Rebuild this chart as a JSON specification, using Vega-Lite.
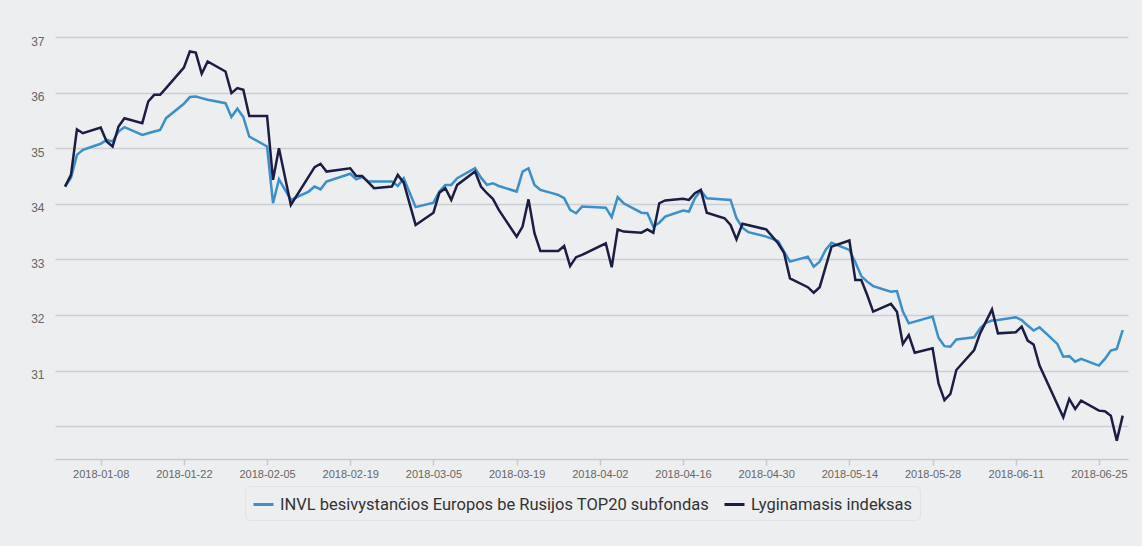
{
  "$schema": "https://vega.github.io/schema/vega-lite/v6.json",
  "width": 1073,
  "height": 422,
  "autosize": {"type": "none"},
  "padding": {"left": 55, "top": 37, "right": 14, "bottom": 87},
  "background": "#EDEEF0",
  "config": {
    "view": {"stroke": null},
    "font": "Liberation Sans",
    "axis": {"labelFont": "Liberation Sans", "labelColor": "#666666"},
    "legend": {"labelFont": "Roboto"}
  },
  "datasets": {
    "fund": [
      {"date": "2018-01-02", "value": 34.31}, {"date": "2018-01-03", "value": 34.47}, {"date": "2018-01-04", "value": 34.88},
      {"date": "2018-01-05", "value": 34.97}, {"date": "2018-01-08", "value": 35.08}, {"date": "2018-01-09", "value": 35.15},
      {"date": "2018-01-10", "value": 35.12}, {"date": "2018-01-11", "value": 35.30}, {"date": "2018-01-12", "value": 35.38},
      {"date": "2018-01-15", "value": 35.24}, {"date": "2018-01-16", "value": 35.27}, {"date": "2018-01-17", "value": 35.30},
      {"date": "2018-01-18", "value": 35.33}, {"date": "2018-01-19", "value": 35.54}, {"date": "2018-01-22", "value": 35.80},
      {"date": "2018-01-23", "value": 35.92}, {"date": "2018-01-24", "value": 35.93}, {"date": "2018-01-25", "value": 35.90},
      {"date": "2018-01-26", "value": 35.87}, {"date": "2018-01-29", "value": 35.81}, {"date": "2018-01-30", "value": 35.56},
      {"date": "2018-01-31", "value": 35.71}, {"date": "2018-02-01", "value": 35.56}, {"date": "2018-02-02", "value": 35.21},
      {"date": "2018-02-05", "value": 35.03}, {"date": "2018-02-06", "value": 34.01}, {"date": "2018-02-07", "value": 34.44},
      {"date": "2018-02-09", "value": 34.07}, {"date": "2018-02-12", "value": 34.22}, {"date": "2018-02-13", "value": 34.31},
      {"date": "2018-02-14", "value": 34.26}, {"date": "2018-02-15", "value": 34.40}, {"date": "2018-02-19", "value": 34.54},
      {"date": "2018-02-20", "value": 34.44}, {"date": "2018-02-21", "value": 34.48}, {"date": "2018-02-22", "value": 34.40},
      {"date": "2018-02-26", "value": 34.40}, {"date": "2018-02-27", "value": 34.32}, {"date": "2018-02-28", "value": 34.46},
      {"date": "2018-03-02", "value": 33.94}, {"date": "2018-03-05", "value": 34.02}, {"date": "2018-03-06", "value": 34.22},
      {"date": "2018-03-07", "value": 34.34}, {"date": "2018-03-08", "value": 34.34}, {"date": "2018-03-09", "value": 34.46},
      {"date": "2018-03-12", "value": 34.64}, {"date": "2018-03-13", "value": 34.47}, {"date": "2018-03-14", "value": 34.34},
      {"date": "2018-03-15", "value": 34.37}, {"date": "2018-03-16", "value": 34.32}, {"date": "2018-03-19", "value": 34.22},
      {"date": "2018-03-20", "value": 34.58}, {"date": "2018-03-21", "value": 34.64}, {"date": "2018-03-22", "value": 34.34},
      {"date": "2018-03-23", "value": 34.25}, {"date": "2018-03-26", "value": 34.16}, {"date": "2018-03-27", "value": 34.10},
      {"date": "2018-03-28", "value": 33.89}, {"date": "2018-03-29", "value": 33.83}, {"date": "2018-03-30", "value": 33.95},
      {"date": "2018-04-03", "value": 33.93}, {"date": "2018-04-04", "value": 33.76}, {"date": "2018-04-05", "value": 34.12},
      {"date": "2018-04-06", "value": 34.01}, {"date": "2018-04-09", "value": 33.84}, {"date": "2018-04-10", "value": 33.83},
      {"date": "2018-04-11", "value": 33.59}, {"date": "2018-04-12", "value": 33.66}, {"date": "2018-04-13", "value": 33.77},
      {"date": "2018-04-16", "value": 33.88}, {"date": "2018-04-17", "value": 33.86}, {"date": "2018-04-18", "value": 34.10},
      {"date": "2018-04-19", "value": 34.24}, {"date": "2018-04-20", "value": 34.10}, {"date": "2018-04-24", "value": 34.07},
      {"date": "2018-04-25", "value": 33.74}, {"date": "2018-04-26", "value": 33.57}, {"date": "2018-04-27", "value": 33.49},
      {"date": "2018-04-30", "value": 33.41}, {"date": "2018-05-02", "value": 33.33}, {"date": "2018-05-03", "value": 33.14},
      {"date": "2018-05-04", "value": 32.96}, {"date": "2018-05-07", "value": 33.05}, {"date": "2018-05-08", "value": 32.87},
      {"date": "2018-05-09", "value": 32.96}, {"date": "2018-05-10", "value": 33.17}, {"date": "2018-05-11", "value": 33.30},
      {"date": "2018-05-14", "value": 33.17}, {"date": "2018-05-15", "value": 32.95}, {"date": "2018-05-16", "value": 32.70},
      {"date": "2018-05-17", "value": 32.60}, {"date": "2018-05-18", "value": 32.52}, {"date": "2018-05-21", "value": 32.42},
      {"date": "2018-05-22", "value": 32.43}, {"date": "2018-05-23", "value": 32.06}, {"date": "2018-05-24", "value": 31.85},
      {"date": "2018-05-25", "value": 31.88}, {"date": "2018-05-28", "value": 31.97}, {"date": "2018-05-29", "value": 31.59},
      {"date": "2018-05-30", "value": 31.44}, {"date": "2018-05-31", "value": 31.43}, {"date": "2018-06-01", "value": 31.56},
      {"date": "2018-06-04", "value": 31.60}, {"date": "2018-06-05", "value": 31.76}, {"date": "2018-06-06", "value": 31.86},
      {"date": "2018-06-07", "value": 31.90}, {"date": "2018-06-08", "value": 31.91}, {"date": "2018-06-11", "value": 31.96},
      {"date": "2018-06-12", "value": 31.91}, {"date": "2018-06-13", "value": 31.81}, {"date": "2018-06-14", "value": 31.72},
      {"date": "2018-06-15", "value": 31.78}, {"date": "2018-06-18", "value": 31.48}, {"date": "2018-06-19", "value": 31.25},
      {"date": "2018-06-20", "value": 31.26}, {"date": "2018-06-21", "value": 31.16}, {"date": "2018-06-22", "value": 31.21},
      {"date": "2018-06-25", "value": 31.09}, {"date": "2018-06-26", "value": 31.21}, {"date": "2018-06-27", "value": 31.36},
      {"date": "2018-06-28", "value": 31.39}, {"date": "2018-06-29", "value": 31.73}
    ],
    "index": [
      {"date": "2018-01-02", "value": 34.31}, {"date": "2018-01-03", "value": 34.52}, {"date": "2018-01-04", "value": 35.34},
      {"date": "2018-01-05", "value": 35.27}, {"date": "2018-01-08", "value": 35.37}, {"date": "2018-01-09", "value": 35.12},
      {"date": "2018-01-10", "value": 35.03}, {"date": "2018-01-11", "value": 35.39}, {"date": "2018-01-12", "value": 35.54},
      {"date": "2018-01-15", "value": 35.45}, {"date": "2018-01-16", "value": 35.84}, {"date": "2018-01-17", "value": 35.96},
      {"date": "2018-01-18", "value": 35.96}, {"date": "2018-01-19", "value": 36.08}, {"date": "2018-01-22", "value": 36.45},
      {"date": "2018-01-23", "value": 36.74}, {"date": "2018-01-24", "value": 36.72}, {"date": "2018-01-25", "value": 36.34},
      {"date": "2018-01-26", "value": 36.56}, {"date": "2018-01-29", "value": 36.38}, {"date": "2018-01-30", "value": 35.99},
      {"date": "2018-01-31", "value": 36.08}, {"date": "2018-02-01", "value": 36.05}, {"date": "2018-02-02", "value": 35.58},
      {"date": "2018-02-05", "value": 35.58}, {"date": "2018-02-06", "value": 34.43}, {"date": "2018-02-07", "value": 35.00},
      {"date": "2018-02-09", "value": 33.98}, {"date": "2018-02-13", "value": 34.66}, {"date": "2018-02-14", "value": 34.72},
      {"date": "2018-02-15", "value": 34.58}, {"date": "2018-02-19", "value": 34.64}, {"date": "2018-02-20", "value": 34.50},
      {"date": "2018-02-21", "value": 34.50}, {"date": "2018-02-23", "value": 34.28}, {"date": "2018-02-26", "value": 34.31},
      {"date": "2018-02-27", "value": 34.52}, {"date": "2018-02-28", "value": 34.38}, {"date": "2018-03-02", "value": 33.62},
      {"date": "2018-03-05", "value": 33.84}, {"date": "2018-03-06", "value": 34.20}, {"date": "2018-03-07", "value": 34.28},
      {"date": "2018-03-08", "value": 34.07}, {"date": "2018-03-09", "value": 34.34}, {"date": "2018-03-12", "value": 34.58},
      {"date": "2018-03-13", "value": 34.31}, {"date": "2018-03-14", "value": 34.19}, {"date": "2018-03-15", "value": 34.09},
      {"date": "2018-03-16", "value": 33.89}, {"date": "2018-03-19", "value": 33.41}, {"date": "2018-03-20", "value": 33.59},
      {"date": "2018-03-21", "value": 34.08}, {"date": "2018-03-22", "value": 33.47}, {"date": "2018-03-23", "value": 33.15},
      {"date": "2018-03-26", "value": 33.15}, {"date": "2018-03-27", "value": 33.24}, {"date": "2018-03-28", "value": 32.88},
      {"date": "2018-03-29", "value": 33.04}, {"date": "2018-03-30", "value": 33.08}, {"date": "2018-04-03", "value": 33.29},
      {"date": "2018-04-04", "value": 32.86}, {"date": "2018-04-05", "value": 33.54}, {"date": "2018-04-06", "value": 33.50},
      {"date": "2018-04-09", "value": 33.48}, {"date": "2018-04-10", "value": 33.54}, {"date": "2018-04-11", "value": 33.48},
      {"date": "2018-04-12", "value": 34.01}, {"date": "2018-04-13", "value": 34.06}, {"date": "2018-04-16", "value": 34.09},
      {"date": "2018-04-17", "value": 34.07}, {"date": "2018-04-18", "value": 34.19}, {"date": "2018-04-19", "value": 34.25},
      {"date": "2018-04-20", "value": 33.84}, {"date": "2018-04-23", "value": 33.74}, {"date": "2018-04-24", "value": 33.62},
      {"date": "2018-04-25", "value": 33.36}, {"date": "2018-04-26", "value": 33.64}, {"date": "2018-04-30", "value": 33.54},
      {"date": "2018-05-02", "value": 33.29}, {"date": "2018-05-03", "value": 33.12}, {"date": "2018-05-04", "value": 32.66},
      {"date": "2018-05-07", "value": 32.50}, {"date": "2018-05-08", "value": 32.40}, {"date": "2018-05-09", "value": 32.50},
      {"date": "2018-05-11", "value": 33.23}, {"date": "2018-05-14", "value": 33.34}, {"date": "2018-05-15", "value": 32.63},
      {"date": "2018-05-16", "value": 32.63}, {"date": "2018-05-17", "value": 32.36}, {"date": "2018-05-18", "value": 32.06},
      {"date": "2018-05-21", "value": 32.20}, {"date": "2018-05-22", "value": 32.06}, {"date": "2018-05-23", "value": 31.48},
      {"date": "2018-05-24", "value": 31.64}, {"date": "2018-05-25", "value": 31.32}, {"date": "2018-05-28", "value": 31.40},
      {"date": "2018-05-29", "value": 30.77}, {"date": "2018-05-30", "value": 30.47}, {"date": "2018-05-31", "value": 30.58},
      {"date": "2018-06-01", "value": 31.01}, {"date": "2018-06-04", "value": 31.37}, {"date": "2018-06-05", "value": 31.67},
      {"date": "2018-06-07", "value": 32.10}, {"date": "2018-06-08", "value": 31.67}, {"date": "2018-06-11", "value": 31.69},
      {"date": "2018-06-12", "value": 31.79}, {"date": "2018-06-13", "value": 31.54}, {"date": "2018-06-14", "value": 31.47},
      {"date": "2018-06-15", "value": 31.09}, {"date": "2018-06-19", "value": 30.16}, {"date": "2018-06-20", "value": 30.49},
      {"date": "2018-06-21", "value": 30.31}, {"date": "2018-06-22", "value": 30.46}, {"date": "2018-06-25", "value": 30.28},
      {"date": "2018-06-26", "value": 30.27}, {"date": "2018-06-27", "value": 30.19}, {"date": "2018-06-28", "value": 29.74},
      {"date": "2018-06-29", "value": 30.19}
    ]
  },
  "encoding": {
    "x": {
      "field": "date",
      "type": "temporal",
      "scale": {
        "type": "utc",
        "domain": [
          {"year": 2017, "month": 12, "date": 31, "hours": 7, "minutes": 25, "utc": true},
          {"year": 2018, "month": 6, "date": 29, "hours": 21, "minutes": 20, "utc": true}
        ]
      },
      "axis": {
        "title": null,
        "labelExpr": "utcFormat(datum.value, '%Y-%m-%d')",
        "values": [
          {"year": 2018, "month": 1, "date": 8, "utc": true},
          {"year": 2018, "month": 1, "date": 22, "utc": true},
          {"year": 2018, "month": 2, "date": 5, "utc": true},
          {"year": 2018, "month": 2, "date": 19, "utc": true},
          {"year": 2018, "month": 3, "date": 5, "utc": true},
          {"year": 2018, "month": 3, "date": 19, "utc": true},
          {"year": 2018, "month": 4, "date": 2, "utc": true},
          {"year": 2018, "month": 4, "date": 16, "utc": true},
          {"year": 2018, "month": 4, "date": 30, "utc": true},
          {"year": 2018, "month": 5, "date": 14, "utc": true},
          {"year": 2018, "month": 5, "date": 28, "utc": true},
          {"year": 2018, "month": 6, "date": 11, "utc": true},
          {"year": 2018, "month": 6, "date": 25, "utc": true}
        ],
        "grid": false,
        "labelFontSize": 11,
        "labelColor": "#666666",
        "labelPadding": 3,
        "tickSize": 6,
        "tickColor": "#c8c9cd",
        "tickWidth": 1.5,
        "domainColor": "#c8c9cd",
        "domainWidth": 1.5,
        "labelFlush": false,
        "labelOverlap": false
      }
    },
    "y": {
      "field": "value",
      "type": "quantitative",
      "scale": {"domain": [29.41, 37.0], "nice": false, "zero": false},
      "axis": {
        "title": null,
        "values": [30, 31, 32, 33, 34, 35, 36, 37],
        "labelExpr": "datum.value == 30 ? '' : datum.label",
        "domain": false,
        "ticks": false,
        "labelFontSize": 12,
        "labelColor": "#666666",
        "labelPadding": 11,
        "labelOffset": 4,
        "gridColor": "#cdced2",
        "gridWidth": 1.5
      }
    },
    "color": {
      "type": "nominal",
      "scale": {
        "domain": ["INVL besivystančios Europos be Rusijos TOP20 subfondas", "Lyginamasis indeksas"],
        "range": ["#3a8fcc", "#1b1d44"]
      },
      "legend": {
        "title": null,
        "orient": "none",
        "legendX": 190,
        "legendY": 449,
        "direction": "horizontal",
        "symbolType": "stroke",
        "symbolSize": 400,
        "symbolStrokeWidth": 3,
        "labelFontSize": 16.5,
        "labelLimit": 600,
        "labelColor": "#333333",
        "labelFont": "Roboto",
        "columnPadding": 8,
        "labelOffset": 5,
        "padding": 7,
        "strokeColor": "#e2e3e6",
        "cornerRadius": 5
      }
    }
  },
  "layer": [
    {
      "data": {"name": "fund"},
      "mark": {"type": "line", "strokeWidth": 2.5, "interpolate": "linear"},
      "encoding": {"color": {"datum": "INVL besivystančios Europos be Rusijos TOP20 subfondas"}}
    },
    {
      "data": {"name": "index"},
      "mark": {"type": "line", "strokeWidth": 2.5, "interpolate": "linear"},
      "encoding": {"color": {"datum": "Lyginamasis indeksas"}}
    }
  ]
}
